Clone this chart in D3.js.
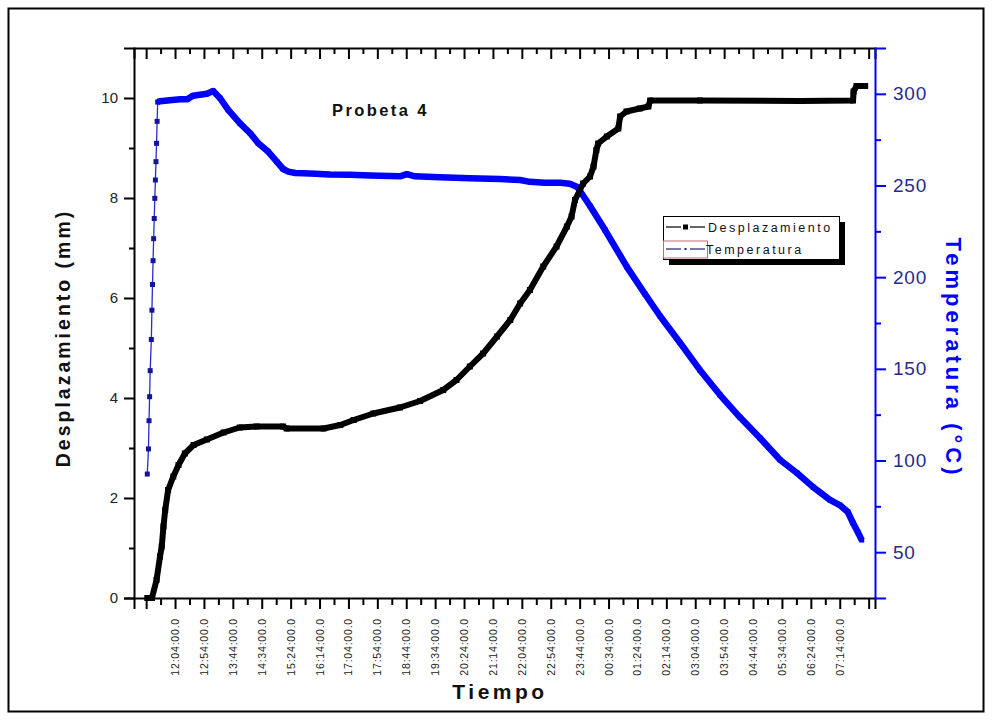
<!DOCTYPE html>
<html>
<head>
<meta charset="utf-8">
<script src="https://cdn.jsdelivr.net/npm/d3@7/dist/d3.min.js"></script>
<style>
  body { margin: 0; background: #fff; }
  text { font-family: "Liberation Sans", Arial, sans-serif; }
</style>
</head>
<body>
<svg id="chart" width="992" height="720"></svg>
<script>
// ---- Data -------------------------------------------------------------
// Clock-time labels on the time axis (one every 50 minutes)
const timeTickLabels = [
  "12:04:00.0", "12:54:00.0", "13:44:00.0", "14:34:00.0", "15:24:00.0",
  "16:14:00.0", "17:04:00.0", "17:54:00.0", "18:44:00.0", "19:34:00.0",
  "20:24:00.0", "21:14:00.0", "22:04:00.0", "22:54:00.0", "23:44:00.0",
  "00:34:00.0", "01:24:00.0", "02:14:00.0", "03:04:00.0", "03:54:00.0",
  "04:44:00.0", "05:34:00.0", "06:24:00.0", "07:14:00.0"
];
// Extent of the time axis and first/last tick
const timeExtent = ["10:53", "08:15"];
const tickStart = "11:14", tickEnd = "08:04", tickStepMin = 25;

// Displacement (mm)
const dispTimes = [
  "11:16", "11:24", "11:32", "11:38", "11:41", "11:44", "11:47", "11:52",
  "12:01", "12:10", "12:21", "12:36", "12:59", "13:28", "13:56", "14:25",
  "15:11", "15:17", "16:21", "16:50", "17:13", "17:47", "18:33", "19:08",
  "19:48", "20:11", "20:34", "20:57", "21:21", "21:44", "22:01", "22:18",
  "22:41", "23:04", "23:22", "23:30", "23:36", "23:50", "00:02", "00:08",
  "00:13", "00:16", "00:31", "00:51", "00:54", "01:05", "01:28", "01:43",
  "01:46", "03:12", "06:05", "07:37", "07:38", "07:43", "07:58"
];
const dispValues = [
  0, 0, 0.36, 0.83, 1.03, 1.43, 1.76, 2.16,
  2.43, 2.66, 2.89, 3.06, 3.17, 3.31, 3.41, 3.43,
  3.43, 3.39, 3.39, 3.46, 3.56, 3.69, 3.81, 3.94,
  4.16, 4.36, 4.63, 4.89, 5.23, 5.56, 5.89, 6.16,
  6.63, 7.03, 7.43, 7.63, 7.96, 8.29, 8.43, 8.63,
  8.96, 9.09, 9.23, 9.39, 9.63, 9.73, 9.79, 9.83,
  9.95, 9.95, 9.94, 9.95, 10.13, 10.24, 10.24
];

// Temperature (°C)
const tempTimes = [
  "11:16", "11:18", "11:19", "11:20", "11:21", "11:23", "11:24", "11:25",
  "11:26", "11:27", "11:28", "11:29", "11:30", "11:31", "11:32", "11:33",
  "11:34", "11:38", "11:55", "12:13", "12:25", "12:35", "12:47", "12:59",
  "13:10", "13:22", "13:36", "13:56", "14:14", "14:28", "14:45", "15:00",
  "15:11", "15:20", "15:32", "15:58", "16:32", "17:07", "17:41", "18:33",
  "18:45", "18:59", "19:42", "20:34", "21:26", "22:01", "22:18", "22:44",
  "23:10", "23:27", "23:40", "00:02", "00:28", "01:06", "01:37", "02:03",
  "02:38", "03:12", "03:47", "04:21", "04:56", "05:31", "06:00", "06:28",
  "06:57", "07:14", "07:28", "07:37", "07:46", "07:52"
];
const tempValues = [
  92.6, 106.3, 121.7, 134.8, 149, 166, 182, 196,
  209, 221, 232, 243, 253, 263, 273, 285,
  295.5, 296, 296.5, 297, 297, 299, 299.5, 300,
  301.5, 297.6, 291.2, 284, 278.5, 273, 268.5, 263,
  259, 257.6, 256.8, 256.5, 256, 255.8, 255.5, 255,
  256.2, 255, 254.5, 254, 253.5, 253, 252, 251.5,
  251.5, 251, 249.2, 238.8, 225.7, 205.5, 190.8, 178.8,
  164.1, 149.4, 135.7, 123.7, 112.3, 100.3, 93.2, 85.5,
  78.5, 75.7, 71.9, 65.9, 60.5, 56.6
];
// Heating ramp was logged sparsely; from here on the logger sampled densely
const tempDenseFrom = "11:34";

const leftTicks = [0, 2, 4, 6, 8, 10];
const leftMinor = [1, 3, 5, 7, 9];
const rightTicks = [50, 100, 150, 200, 250, 300];
const rightMinor = [75, 125, 175, 225, 275];

// ---- Helpers ----------------------------------------------------------
// Readings run past midnight: early-morning hours belong to the next day
function parseClock(s) {
  const p = s.split(":");
  const h = +p[0], m = +p[1], sec = p[2] ? parseFloat(p[2]) : 0;
  return new Date(2000, 0, h < 10 ? 2 : 1, h, m, sec);
}

// ---- Layout -----------------------------------------------------------
const svg = d3.select("#chart");
const L = 134, R = 875, T = 48, B = 598;
const BLUE = "#0000ff";

// outer frame
svg.append("rect")
  .attr("x", 8.5).attr("y", 8.5).attr("width", 975).attr("height", 703)
  .attr("fill", "#fff").attr("stroke", "#000").attr("stroke-width", 2);

const x = d3.scaleTime()
  .domain(timeExtent.map(parseClock))
  .range([L, R]);
const yL = d3.scaleLinear().domain([0, 11]).range([B, T]);
const yR = d3.scaleLinear().domain([25, 325]).range([B, T]);

// tick positions along time axis
const tickTimes = [];
for (let t = parseClock(tickStart); t <= new Date(parseClock(tickEnd).getTime() + 1000);
     t = new Date(t.getTime() + tickStepMin * 60000)) tickTimes.push(t);
const majorTimes = tickTimes.filter((d, i) => i % 2 === 0);
const minorTimes = tickTimes.filter((d, i) => i % 2 === 1);

// ---- Axes -------------------------------------------------------------
// bottom axis
svg.append("g").attr("transform", `translate(0,${B})`)
  .call(d3.axisBottom(x).tickValues(majorTimes).tickSize(11).tickFormat(""));
svg.append("g").attr("transform", `translate(0,${B})`)
  .call(d3.axisBottom(x).tickValues(minorTimes).tickSize(7).tickFormat(""))
  .select(".domain").remove();

// rotated time labels
const labelDates = timeTickLabels.map(parseClock);
svg.append("g").selectAll("text")
  .data(timeTickLabels)
  .join("text")
  .attr("transform", (d, i) => `translate(${x(labelDates[i]) + 4},${B + 20}) rotate(-90)`)
  .attr("text-anchor", "end")
  .attr("font-size", 10.5)
  .attr("letter-spacing", 0.8)
  .attr("fill", "#222")
  .text(d => d);

// top axis, ticks pointing inward
svg.append("g").attr("transform", `translate(0,${T})`)
  .call(d3.axisBottom(x).tickValues(majorTimes).tickSize(11).tickFormat(""));
svg.append("g").attr("transform", `translate(0,${T})`)
  .call(d3.axisBottom(x).tickValues(minorTimes).tickSize(6).tickFormat(""))
  .select(".domain").remove();

// left axis
const gl = svg.append("g").attr("transform", `translate(${L},0)`)
  .call(d3.axisLeft(yL).tickValues(leftTicks).tickSize(10).tickPadding(6).tickFormat(d3.format("d")));
svg.append("g").attr("transform", `translate(${L},0)`)
  .call(d3.axisLeft(yL).tickValues(leftMinor).tickSize(5).tickFormat(""))
  .select(".domain").remove();
gl.selectAll("text").attr("font-size", 15).attr("fill", "#222")
  .attr("font-family", "Liberation Sans, Arial, sans-serif");

// right axis (blue)
const gr = svg.append("g").attr("transform", `translate(${R},0)`)
  .call(d3.axisRight(yR).tickValues(rightTicks).tickSize(11).tickPadding(7));
svg.append("g").attr("transform", `translate(${R},0)`)
  .call(d3.axisRight(yR).tickValues(rightMinor).tickSize(6).tickFormat(""))
  .call(g => g.select(".domain").remove())
  .selectAll("line").attr("stroke", BLUE);
gr.selectAll("line").attr("stroke", BLUE);
gr.select(".domain").attr("stroke", BLUE);
gr.selectAll("text").attr("font-size", 19).attr("letter-spacing", 0.8).attr("fill", "#2a2a8a")
  .attr("font-family", "Liberation Sans, Arial, sans-serif");

svg.selectAll(".domain").attr("stroke-width", 2);
svg.selectAll(".tick line").attr("stroke-width", 2);

// ---- Series -----------------------------------------------------------
const dispData = dispTimes.map((t, i) => ({ t: parseClock(t), v: dispValues[i] }));
const tempData = tempTimes.map((t, i) => ({ t: parseClock(t), v: tempValues[i] }));
const denseStart = parseClock(tempDenseFrom);

const lineL = d3.line().x(d => x(d.t)).y(d => yL(d.v));
const lineR = d3.line().x(d => x(d.t)).y(d => yR(d.v));

// temperature: thin connecting line, dense band, square markers
svg.append("path").datum(tempData)
  .attr("d", lineR).attr("fill", "none")
  .attr("stroke", "#2b2bd0").attr("stroke-width", 1.3);
svg.append("path").datum(tempData.filter(d => d.t >= denseStart))
  .attr("d", lineR).attr("fill", "none")
  .attr("stroke", BLUE).attr("stroke-width", 6.5)
  .attr("stroke-linejoin", "round");
svg.append("g").selectAll("rect")
  .data(tempData)
  .join("rect")
  .attr("x", d => x(d.t) - 2.5).attr("y", d => yR(d.v) - 2.5)
  .attr("width", 5).attr("height", 5)
  .attr("fill", d => d.t >= denseStart ? BLUE : "#14149a");

// displacement: dense band with square markers
svg.append("path").datum(dispData)
  .attr("d", lineL).attr("fill", "none")
  .attr("stroke", "#000").attr("stroke-width", 6)
  .attr("stroke-linejoin", "round");
svg.append("g").selectAll("rect")
  .data(dispData)
  .join("rect")
  .attr("x", d => x(d.t) - 3).attr("y", d => yL(d.v) - 3)
  .attr("width", 6).attr("height", 6)
  .attr("fill", "#000");

// ---- Titles -----------------------------------------------------------
svg.append("text")
  .attr("x", 332).attr("y", 116)
  .attr("font-size", 16.5).attr("font-weight", "bold").attr("letter-spacing", 2.4)
  .attr("fill", "#111")
  .text("Probeta 4");

svg.append("text")
  .attr("transform", `translate(70,338) rotate(-90)`)
  .attr("text-anchor", "middle")
  .attr("font-size", 19.5).attr("font-weight", "bold").attr("letter-spacing", 3)
  .attr("fill", "#111")
  .text("Desplazamiento (mm)");

svg.append("text")
  .attr("transform", `translate(946,358) rotate(90)`)
  .attr("text-anchor", "middle")
  .attr("font-size", 22).attr("font-weight", "bold").attr("letter-spacing", 4)
  .attr("fill", BLUE)
  .text("Temperatura (°C)");

svg.append("text")
  .attr("x", 500).attr("y", 699)
  .attr("text-anchor", "middle")
  .attr("font-size", 21).attr("font-weight", "bold").attr("letter-spacing", 3.5)
  .attr("fill", "#111")
  .text("Tiempo");

// ---- Legend -----------------------------------------------------------
const lg = svg.append("g").attr("transform", "translate(663,216)");
lg.append("rect").attr("x", 6).attr("y", 6).attr("width", 176).attr("height", 43).attr("fill", "#000");
lg.append("rect").attr("x", 0.5).attr("y", 0.5).attr("width", 176).attr("height", 43)
  .attr("fill", "#fff").attr("stroke", "#000").attr("stroke-width", 1);
// row 1: displacement
lg.append("line").attr("x1", 3).attr("x2", 18).attr("y1", 11).attr("y2", 11).attr("stroke", "#000").attr("stroke-width", 1.2);
lg.append("line").attr("x1", 27).attr("x2", 42).attr("y1", 11).attr("y2", 11).attr("stroke", "#000").attr("stroke-width", 1.2);
lg.append("rect").attr("x", 20).attr("y", 8.5).attr("width", 5).attr("height", 5).attr("fill", "#000");
lg.append("text").attr("x", 45).attr("y", 15.5).attr("font-size", 12.5).attr("letter-spacing", 2.5)
  .attr("fill", "#111").text("Desplazamiento");
// row 2: temperature
lg.append("rect").attr("x", 0.5).attr("y", 25).attr("width", 44).attr("height", 17)
  .attr("fill", "#fff").attr("stroke", "#c46a7a").attr("stroke-width", 1);
lg.append("line").attr("x1", 3).attr("x2", 18).attr("y1", 33).attr("y2", 33).attr("stroke", "#22226a").attr("stroke-width", 1.2);
lg.append("line").attr("x1", 27).attr("x2", 42).attr("y1", 33).attr("y2", 33).attr("stroke", "#22226a").attr("stroke-width", 1.2);
lg.append("rect").attr("x", 21.5).attr("y", 32).attr("width", 2).attr("height", 2).attr("fill", "#22226a");
lg.append("text").attr("x", 43).attr("y", 37.5).attr("font-size", 12.5).attr("letter-spacing", 2.5)
  .attr("fill", "#111").text("Temperatura");
</script>
</body>
</html>
